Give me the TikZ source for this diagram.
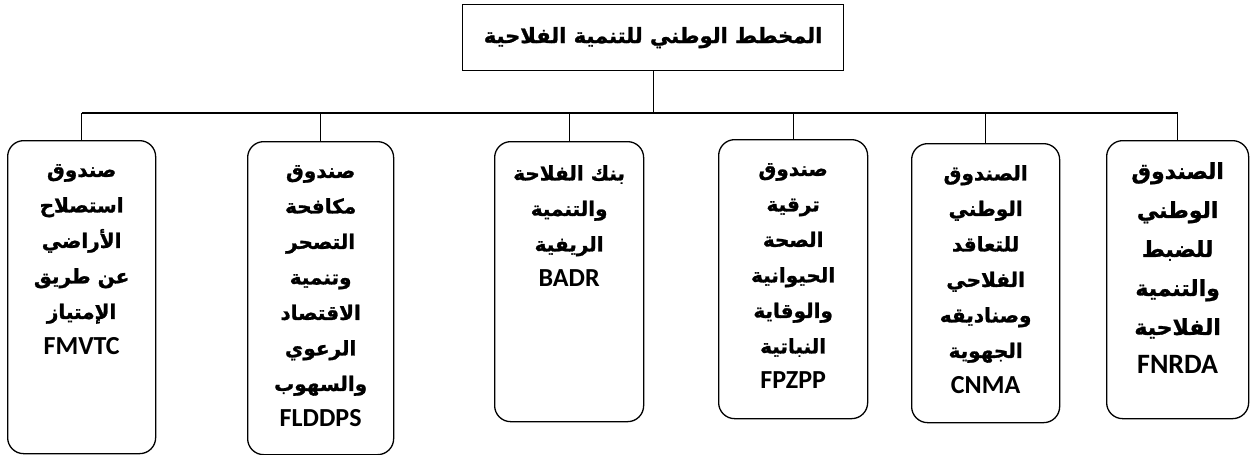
\documentclass[tikz,border=0pt]{standalone}
\usepackage{fontspec}
\TeXXeTstate=1
\newfontfamily\arfont[Script=Arabic, BoldFeatures={FakeBold=1.2}]{DejaVu Sans}
\newfontfamily\latfont{Carlito}
\newcommand\RL[1]{\beginR #1\endR}
\newcommand\LT[1]{{\latfont\bfseries\fontsize{26}{35.5}\selectfont #1}}
\newcommand\LTb[1]{{\latfont\bfseries\fontsize{28}{39}\selectfont #1}}
\begin{document}
\begin{tikzpicture}[x=1pt,y=-1pt,
  fund/.style={draw, line width=1.3pt, rounded corners=16pt, anchor=north west, inner sep=0pt},
  lbl/.style={anchor=north, align=center, font=\arfont\bfseries\fontsize{20}{35.5}\selectfont, inner sep=0pt},
  lblbig/.style={lbl, font=\arfont\bfseries\fontsize{22}{39}\selectfont},
  link/.style={line width=1.3pt}]
\useasboundingbox (0,0) rectangle (1251,455);
\node[draw, line width=1.3pt, minimum width=381pt, minimum height=66pt, anchor=north west, inner sep=0pt] (top) at (462,4) {};
\node[font=\arfont\bfseries\fontsize{21}{26}\selectfont] (title) at (top.center) {\RL{المخطط الوطني للتنمية الفلاحية}};
% boxes
\node[fund, minimum width=148pt, minimum height=313pt] (b1) at (7,140) {};
\node[fund, minimum width=146pt, minimum height=313pt] (b2) at (247,141) {};
\node[fund, minimum width=149pt, minimum height=280pt] (b3) at (494,141) {};
\node[fund, minimum width=149pt, minimum height=279pt] (b4) at (718,139) {};
\node[fund, minimum width=148pt, minimum height=279pt] (b5) at (911,143) {};
\node[fund, minimum width=142pt, minimum height=278pt] (b6) at (1106,140) {};
% texts
\node[lbl, yshift=-24pt] (t1) at (b1.north) {\RL{صندوق}\\\RL{استصلاح}\\\RL{الأراضي}\\\RL{عن طريق}\\\RL{الإمتياز}\\\LT{FMVTC}};
\node[lbl, yshift=-24pt] (t2) at (b2.north) {\RL{صندوق}\\\RL{مكافحة}\\\RL{التصحر}\\\RL{وتنمية}\\\RL{الاقتصاد}\\\RL{الرعوي}\\\RL{والسهوب}\\\LT{FLDDPS}};
\node[lbl, yshift=-24pt] (t3) at (b3.north) {\RL{بنك الفلاحة}\\\RL{والتنمية}\\\RL{الريفية}\\\LT{BADR}};
\node[lbl, yshift=-24pt] (t4) at (b4.north) {\RL{صندوق}\\\RL{ترقية}\\\RL{الصحة}\\\RL{الحيوانية}\\\RL{والوقاية}\\\RL{النباتية}\\\LT{FPZPP}};
\node[lbl, yshift=-22pt] (t5) at (b5.north) {\RL{الصندوق}\\\RL{الوطني}\\\RL{للتعاقد}\\\RL{الفلاحي}\\\RL{وصناديقه}\\\RL{الجهوية}\\\LT{CNMA}};
\node[lblbig, yshift=-22pt] (t6) at (b6.north) {\RL{الصندوق}\\\RL{الوطني}\\\RL{للضبط}\\\RL{والتنمية}\\\RL{الفلاحية}\\\LTb{FNRDA}};
% connectors
\coordinate (bus) at (0,113);
\draw[link] (top.south) -- (top.south |- bus);
\draw[link] (b1.north |- bus) -- (b6.north |- bus);
\foreach \b in {b1,b2,b3,b4,b5,b6} \draw[link] (\b.north |- bus) -- (\b.north);
\end{tikzpicture}
\end{document}
